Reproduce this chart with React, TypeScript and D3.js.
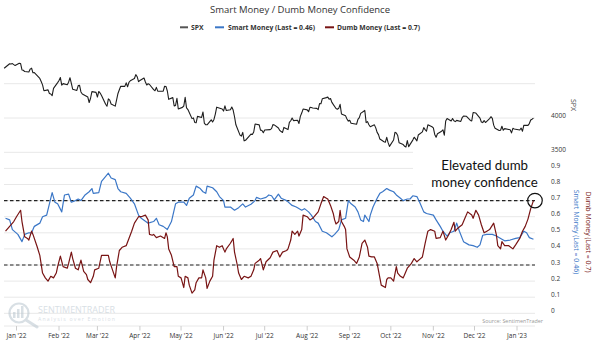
import React from "react";
import * as d3 from "d3";

const TITLE = "Smart Money / Dumb Money Confidence";

const SPX: [string, number][] = [
  ["2021-12-23",4725],["2021-12-27",4791],["2021-12-28",4786],["2021-12-29",4793],["2021-12-30",4778],["2021-12-31",4766],
  ["2022-01-03",4797],["2022-01-04",4794],["2022-01-05",4701],["2022-01-06",4696],["2022-01-07",4677],["2022-01-10",4670],
  ["2022-01-11",4713],["2022-01-12",4726],["2022-01-13",4659],["2022-01-14",4663],["2022-01-18",4577],["2022-01-19",4533],
  ["2022-01-20",4483],["2022-01-21",4398],["2022-01-24",4410],["2022-01-25",4357],["2022-01-26",4350],["2022-01-27",4327],
  ["2022-01-28",4432],["2022-01-31",4516],["2022-02-01",4546],["2022-02-02",4589],["2022-02-03",4478],["2022-02-04",4501],
  ["2022-02-07",4484],["2022-02-08",4522],["2022-02-09",4587],["2022-02-10",4504],["2022-02-11",4419],["2022-02-14",4402],
  ["2022-02-15",4472],["2022-02-16",4475],["2022-02-17",4380],["2022-02-18",4349],["2022-02-22",4305],["2022-02-23",4226],
  ["2022-02-24",4288],["2022-02-25",4385],["2022-02-28",4374],["2022-03-01",4306],["2022-03-02",4387],["2022-03-03",4364],
  ["2022-03-04",4329],["2022-03-07",4201],["2022-03-08",4171],["2022-03-09",4278],["2022-03-10",4260],["2022-03-11",4204],
  ["2022-03-14",4173],["2022-03-15",4263],["2022-03-16",4358],["2022-03-17",4412],["2022-03-18",4463],["2022-03-21",4461],
  ["2022-03-22",4512],["2022-03-23",4456],["2022-03-24",4520],["2022-03-25",4543],["2022-03-28",4575],["2022-03-29",4632],
  ["2022-03-30",4602],["2022-03-31",4530],["2022-04-01",4546],["2022-04-04",4583],["2022-04-05",4525],["2022-04-06",4481],
  ["2022-04-07",4500],["2022-04-08",4488],["2022-04-11",4413],["2022-04-12",4397],["2022-04-13",4447],["2022-04-14",4392],
  ["2022-04-18",4391],["2022-04-19",4463],["2022-04-20",4460],["2022-04-21",4394],["2022-04-22",4272],["2022-04-25",4297],
  ["2022-04-26",4175],["2022-04-27",4184],["2022-04-28",4288],["2022-04-29",4132],["2022-05-02",4155],["2022-05-03",4175],
  ["2022-05-04",4301],["2022-05-05",4147],["2022-05-06",4123],["2022-05-09",3991],["2022-05-10",4001],["2022-05-11",3935],
  ["2022-05-12",3930],["2022-05-13",4024],["2022-05-16",4008],["2022-05-17",4088],["2022-05-18",3924],["2022-05-19",3901],
  ["2022-05-20",3901],["2022-05-23",3974],["2022-05-24",3941],["2022-05-25",3979],["2022-05-26",4058],["2022-05-27",4158],
  ["2022-05-31",4132],["2022-06-01",4101],["2022-06-02",4177],["2022-06-03",4109],["2022-06-06",4121],["2022-06-07",4161],
  ["2022-06-08",4116],["2022-06-09",4018],["2022-06-10",3901],["2022-06-13",3750],["2022-06-14",3735],["2022-06-15",3790],
  ["2022-06-16",3667],["2022-06-17",3675],["2022-06-21",3765],["2022-06-22",3760],["2022-06-23",3796],["2022-06-24",3912],
  ["2022-06-27",3900],["2022-06-28",3821],["2022-06-29",3819],["2022-06-30",3785],["2022-07-01",3825],["2022-07-05",3831],
  ["2022-07-06",3845],["2022-07-07",3903],["2022-07-08",3899],["2022-07-11",3855],["2022-07-12",3819],["2022-07-13",3802],
  ["2022-07-14",3790],["2022-07-15",3863],["2022-07-18",3831],["2022-07-19",3937],["2022-07-20",3960],["2022-07-21",3999],
  ["2022-07-22",3962],["2022-07-25",3967],["2022-07-26",3921],["2022-07-27",4024],["2022-07-28",4072],["2022-07-29",4130],
  ["2022-08-01",4119],["2022-08-02",4091],["2022-08-03",4155],["2022-08-04",4152],["2022-08-05",4145],["2022-08-08",4140],
  ["2022-08-09",4122],["2022-08-10",4210],["2022-08-11",4207],["2022-08-12",4280],["2022-08-15",4297],["2022-08-16",4305],
  ["2022-08-17",4275],["2022-08-18",4284],["2022-08-19",4228],["2022-08-22",4138],["2022-08-23",4128],["2022-08-24",4141],
  ["2022-08-25",4199],["2022-08-26",4058],["2022-08-29",4031],["2022-08-30",3986],["2022-08-31",3955],["2022-09-01",3967],
  ["2022-09-02",3924],["2022-09-06",3909],["2022-09-07",3980],["2022-09-08",4006],["2022-09-09",4067],["2022-09-12",4110],
  ["2022-09-13",3932],["2022-09-14",3947],["2022-09-15",3901],["2022-09-16",3873],["2022-09-19",3900],["2022-09-20",3856],
  ["2022-09-21",3790],["2022-09-22",3758],["2022-09-23",3693],["2022-09-26",3655],["2022-09-27",3647],["2022-09-28",3719],
  ["2022-09-29",3641],["2022-09-30",3586],["2022-10-03",3679],["2022-10-04",3791],["2022-10-05",3783],["2022-10-06",3745],
  ["2022-10-07",3640],["2022-10-10",3613],["2022-10-11",3589],["2022-10-12",3577],["2022-10-13",3670],["2022-10-14",3583],
  ["2022-10-17",3678],["2022-10-18",3720],["2022-10-19",3695],["2022-10-20",3666],["2022-10-21",3752],["2022-10-24",3798],
  ["2022-10-25",3859],["2022-10-26",3831],["2022-10-27",3807],["2022-10-28",3901],["2022-10-31",3872],["2022-11-01",3856],
  ["2022-11-02",3760],["2022-11-03",3720],["2022-11-04",3771],["2022-11-07",3807],["2022-11-08",3828],["2022-11-09",3749],
  ["2022-11-10",3956],["2022-11-11",3993],["2022-11-14",3957],["2022-11-15",3992],["2022-11-16",3959],["2022-11-17",3947],
  ["2022-11-18",3965],["2022-11-21",3950],["2022-11-22",4004],["2022-11-23",4027],["2022-11-25",4026],["2022-11-28",3964],
  ["2022-11-29",3958],["2022-11-30",4080],["2022-12-01",4076],["2022-12-02",4072],["2022-12-05",3999],["2022-12-06",3941],
  ["2022-12-07",3933],["2022-12-08",3963],["2022-12-09",3934],["2022-12-12",3991],["2022-12-13",4019],["2022-12-14",3996],
  ["2022-12-15",3896],["2022-12-16",3852],["2022-12-19",3818],["2022-12-20",3821],["2022-12-21",3879],["2022-12-22",3822],
  ["2022-12-23",3845],["2022-12-27",3829],["2022-12-28",3783],["2022-12-29",3849],["2022-12-30",3840],["2023-01-03",3825],
  ["2023-01-04",3853],["2023-01-05",3808],["2023-01-06",3895],["2023-01-09",3893],["2023-01-10",3919],["2023-01-11",3970],
  ["2023-01-12",3983],["2023-01-13",3999],
];

const SMART: [string, number][] = [
  ["2021-12-24",0.59],["2021-12-27",0.58],["2021-12-29",0.52],["2022-01-02",0.49],["2022-01-05",0.445],["2022-01-07",0.49],
  ["2022-01-10",0.5],["2022-01-12",0.5],["2022-01-14",0.54],["2022-01-18",0.56],["2022-01-20",0.6],["2022-01-23",0.61],
  ["2022-01-25",0.68],["2022-01-27",0.75],["2022-01-29",0.69],["2022-01-31",0.68],["2022-02-03",0.63],["2022-02-05",0.735],
  ["2022-02-08",0.74],["2022-02-10",0.69],["2022-02-13",0.7],["2022-02-15",0.71],["2022-02-17",0.7],["2022-02-20",0.735],
  ["2022-02-23",0.755],["2022-02-25",0.775],["2022-02-26",0.745],["2022-03-02",0.75],["2022-03-04",0.82],["2022-03-06",0.84],
  ["2022-03-09",0.87],["2022-03-11",0.84],["2022-03-14",0.83],["2022-03-16",0.775],["2022-03-18",0.755],["2022-03-22",0.745],
  ["2022-03-25",0.715],["2022-03-28",0.68],["2022-03-31",0.61],["2022-04-02",0.59],["2022-04-07",0.56],["2022-04-11",0.57],
  ["2022-04-13",0.59],["2022-04-15",0.55],["2022-04-18",0.54],["2022-04-21",0.52],["2022-04-24",0.57],["2022-04-27",0.68],
  ["2022-04-29",0.69],["2022-05-03",0.69],["2022-05-05",0.67],["2022-05-07",0.715],["2022-05-10",0.735],["2022-05-12",0.79],
  ["2022-05-15",0.775],["2022-05-17",0.755],["2022-05-19",0.745],["2022-05-20",0.79],["2022-05-24",0.78],["2022-05-27",0.755],
  ["2022-05-29",0.725],["2022-06-01",0.7],["2022-06-02",0.66],["2022-06-06",0.66],["2022-06-09",0.64],["2022-06-12",0.656],
  ["2022-06-15",0.68],["2022-06-17",0.66],["2022-06-21",0.677],["2022-06-24",0.7],["2022-06-25",0.72],["2022-06-28",0.71],
  ["2022-07-02",0.72],["2022-07-04",0.735],["2022-07-06",0.73],["2022-07-08",0.705],["2022-07-11",0.74],["2022-07-13",0.715],
  ["2022-07-17",0.7],["2022-07-21",0.67],["2022-07-24",0.66],["2022-07-28",0.64],["2022-07-30",0.65],["2022-08-02",0.63],
  ["2022-08-04",0.61],["2022-08-07",0.57],["2022-08-09",0.56],["2022-08-12",0.51],["2022-08-15",0.5],["2022-08-19",0.475],
  ["2022-08-21",0.49],["2022-08-24",0.52],["2022-08-26",0.58],["2022-08-29",0.59],["2022-08-31",0.7],["2022-09-02",0.68],
  ["2022-09-05",0.66],["2022-09-07",0.63],["2022-09-09",0.58],["2022-09-11",0.57],["2022-09-12",0.61],["2022-09-15",0.57],
  ["2022-09-16",0.61],["2022-09-18",0.66],["2022-09-21",0.715],["2022-09-23",0.745],["2022-09-25",0.755],["2022-09-28",0.775],
  ["2022-09-30",0.765],["2022-10-03",0.755],["2022-10-05",0.735],["2022-10-08",0.715],["2022-10-10",0.7],["2022-10-13",0.71],
  ["2022-10-15",0.71],["2022-10-17",0.73],["2022-10-20",0.725],["2022-10-22",0.69],["2022-10-25",0.63],["2022-10-27",0.62],
  ["2022-11-01",0.61],["2022-11-03",0.58],["2022-11-06",0.54],["2022-11-08",0.51],["2022-11-11",0.48],["2022-11-13",0.5],
  ["2022-11-16",0.51],["2022-11-18",0.56],["2022-11-20",0.51],["2022-11-23",0.445],["2022-11-27",0.425],["2022-11-30",0.42],
  ["2022-12-03",0.41],["2022-12-05",0.425],["2022-12-07",0.485],["2022-12-10",0.49],["2022-12-14",0.49],["2022-12-17",0.48],
  ["2022-12-21",0.46],["2022-12-23",0.45],["2022-12-27",0.455],["2022-12-31",0.465],["2023-01-03",0.47],["2023-01-06",0.51],
  ["2023-01-08",0.5],["2023-01-10",0.47],["2023-01-13",0.46],
];

const DUMB: [string, number][] = [
  ["2021-12-24",0.51],["2021-12-27",0.54],["2021-12-30",0.57],["2022-01-01",0.6],["2022-01-04",0.64],["2022-01-05",0.57],
  ["2022-01-07",0.475],["2022-01-09",0.465],["2022-01-10",0.455],["2022-01-12",0.51],["2022-01-13",0.49],["2022-01-16",0.415],
  ["2022-01-18",0.36],["2022-01-20",0.25],["2022-01-22",0.22],["2022-01-24",0.2],["2022-01-26",0.23],["2022-01-28",0.22],
  ["2022-01-30",0.25],["2022-01-31",0.29],["2022-02-02",0.355],["2022-02-04",0.29],["2022-02-07",0.28],["2022-02-08",0.31],
  ["2022-02-10",0.38],["2022-02-11",0.34],["2022-02-13",0.28],["2022-02-15",0.27],["2022-02-17",0.33],["2022-02-19",0.26],
  ["2022-02-21",0.24],["2022-02-22",0.21],["2022-02-24",0.19],["2022-02-26",0.23],["2022-02-27",0.27],["2022-03-02",0.28],
  ["2022-03-04",0.36],["2022-03-06",0.36],["2022-03-09",0.36],["2022-03-10",0.32],["2022-03-12",0.27],["2022-03-14",0.22],
  ["2022-03-15",0.29],["2022-03-17",0.39],["2022-03-19",0.41],["2022-03-22",0.42],["2022-03-24",0.465],["2022-03-26",0.51],
  ["2022-03-28",0.56],["2022-03-31",0.6],["2022-04-02",0.6],["2022-04-05",0.61],["2022-04-07",0.58],["2022-04-08",0.49],
  ["2022-04-10",0.485],["2022-04-11",0.49],["2022-04-13",0.47],["2022-04-16",0.48],["2022-04-19",0.465],["2022-04-20",0.5],
  ["2022-04-21",0.475],["2022-04-22",0.4],["2022-04-24",0.36],["2022-04-26",0.29],["2022-04-28",0.29],["2022-04-29",0.23],
  ["2022-05-01",0.22],["2022-05-03",0.16],["2022-05-04",0.23],["2022-05-06",0.22],["2022-05-07",0.175],["2022-05-09",0.125],
  ["2022-05-11",0.145],["2022-05-12",0.19],["2022-05-14",0.22],["2022-05-16",0.22],["2022-05-17",0.27],["2022-05-19",0.22],
  ["2022-05-20",0.155],["2022-05-22",0.2],["2022-05-24",0.23],["2022-05-25",0.33],["2022-05-27",0.42],["2022-05-29",0.41],
  ["2022-05-31",0.42],["2022-06-02",0.38],["2022-06-03",0.4],["2022-06-06",0.435],["2022-06-08",0.465],["2022-06-09",0.38],
  ["2022-06-11",0.3],["2022-06-12",0.25],["2022-06-14",0.21],["2022-06-16",0.23],["2022-06-19",0.22],["2022-06-21",0.23],
  ["2022-06-23",0.27],["2022-06-24",0.31],["2022-06-27",0.33],["2022-06-28",0.34],["2022-06-30",0.27],["2022-07-02",0.32],
  ["2022-07-05",0.345],["2022-07-07",0.38],["2022-07-10",0.39],["2022-07-12",0.35],["2022-07-14",0.38],["2022-07-17",0.39],
  ["2022-07-18",0.4],["2022-07-20",0.455],["2022-07-21",0.51],["2022-07-23",0.49],["2022-07-25",0.51],["2022-07-26",0.48],
  ["2022-07-28",0.52],["2022-07-29",0.61],["2022-08-01",0.6],["2022-08-03",0.58],["2022-08-05",0.59],["2022-08-07",0.61],
  ["2022-08-09",0.63],["2022-08-11",0.68],["2022-08-13",0.725],["2022-08-15",0.715],["2022-08-16",0.71],["2022-08-18",0.67],
  ["2022-08-20",0.62],["2022-08-21",0.58],["2022-08-22",0.555],["2022-08-24",0.57],["2022-08-25",0.64],["2022-08-26",0.57],
  ["2022-08-28",0.54],["2022-08-29",0.52],["2022-08-30",0.4],["2022-09-01",0.35],["2022-09-04",0.33],["2022-09-06",0.31],
  ["2022-09-08",0.35],["2022-09-10",0.435],["2022-09-12",0.455],["2022-09-14",0.41],["2022-09-15",0.355],["2022-09-17",0.35],
  ["2022-09-19",0.35],["2022-09-21",0.31],["2022-09-23",0.22],["2022-09-24",0.175],["2022-09-27",0.16],["2022-09-28",0.21],
  ["2022-09-29",0.22],["2022-10-01",0.22],["2022-10-03",0.2],["2022-10-05",0.29],["2022-10-06",0.25],["2022-10-08",0.23],
  ["2022-10-10",0.22],["2022-10-11",0.24],["2022-10-13",0.28],["2022-10-14",0.29],["2022-10-16",0.31],["2022-10-18",0.34],
  ["2022-10-20",0.32],["2022-10-22",0.335],["2022-10-24",0.35],["2022-10-26",0.435],["2022-10-28",0.51],["2022-10-30",0.52],
  ["2022-11-02",0.51],["2022-11-03",0.465],["2022-11-06",0.47],["2022-11-08",0.51],["2022-11-10",0.455],["2022-11-12",0.485],
  ["2022-11-14",0.52],["2022-11-16",0.565],["2022-11-17",0.51],["2022-11-19",0.53],["2022-11-22",0.55],["2022-11-24",0.59],
  ["2022-11-26",0.63],["2022-11-29",0.61],["2022-11-30",0.59],["2022-12-02",0.64],["2022-12-04",0.61],["2022-12-06",0.55],
  ["2022-12-08",0.5],["2022-12-10",0.51],["2022-12-12",0.52],["2022-12-15",0.56],["2022-12-17",0.485],["2022-12-18",0.42],
  ["2022-12-20",0.4],["2022-12-21",0.445],["2022-12-23",0.42],["2022-12-26",0.42],["2022-12-29",0.4],["2022-12-31",0.425],
  ["2023-01-03",0.465],["2023-01-05",0.51],["2023-01-07",0.54],["2023-01-09",0.585],["2023-01-11",0.65],["2023-01-13",0.7],
];

const MONTH_TICKS = ["2022-01-01","2022-02-01","2022-03-01","2022-04-01","2022-05-01","2022-06-01","2022-07-01",
  "2022-08-01","2022-09-01","2022-10-01","2022-11-01","2022-12-01","2023-01-01"];
const SPX_GRID = [4500, 4000, 3500];
const SPX_TICKS = [4000, 3500];
const MONEY_TICKS = [0, 0.1, 0.2, 0.3, 0.4, 0.5, 0.6, 0.7, 0.8, 0.9];
const MONEY_LABELS = ["0", "0.1", "0.2", "0.3", "0.4", "0.5", "0.6", "0.7", "0.8", "0.9"];
const THRESHOLDS = [0.7, 0.3];
const LEGEND = ["SPX", "Smart Money (Last = 0.46)", "Dumb Money (Last = 0.7)"];
const ANNOTATION = ["Elevated dumb", "money confidence"];

const C_SPX = "#1e1e1e";
const C_SMART = "#3b77c7";
const C_DUMB = "#781414";
const FONT = "'Open Sans', 'DejaVu Sans', sans-serif";

const parse = d3.timeParse("%Y-%m-%d");
const fmtMonth = d3.timeFormat("%b '%y");

export default function App() {
  const x = d3.scaleTime().domain([parse("2022-01-01")!, parse("2023-01-01")!]).range([16.5, 517]);
  const ySpx = d3.scaleLinear().domain([3500, 4000]).range([152.3, 118]);
  const yM = d3.scaleLinear().domain([0, 0.9]).range([313.3, 168.4]);
  const X0 = 4, X1 = 535;

  const spxLine = d3.line<[string, number]>().x(d => x(parse(d[0])!)).y(d => ySpx(d[1]));
  const mLine = d3.line<[string, number]>().x(d => x(parse(d[0])!)).y(d => yM(d[1]));
  const last = DUMB[DUMB.length - 1];
  const lastX = x(parse(last[0])!);
  const lastY = yM(last[1]);

  return (
    <svg width={600} height={345} style={{ position: "absolute", left: 0, top: 0, background: "#fff" }} fontFamily={FONT}>
      <rect x={0} y={0} width={600} height={345} fill="#fff" />
      <text x={300} y={13.3} textAnchor="middle" fontSize={9.5} fill="#333">{TITLE}</text>
      {/* legend */}
      <g fontSize={6.8} fontWeight="bold" fill="#333">
        <line x1={180} x2={188} y1={27.3} y2={27.3} stroke="#555" strokeWidth={2} />
        <text x={191} y={29.7}>{LEGEND[0]}</text>
        <line x1={215} x2={224} y1={27.3} y2={27.3} stroke={C_SMART} strokeWidth={2} />
        <text x={228} y={29.7}>{LEGEND[1]}</text>
        <line x1={325} x2={334} y1={27.3} y2={27.3} stroke={C_DUMB} strokeWidth={2} />
        <text x={337} y={29.7}>{LEGEND[2]}</text>
      </g>
      {/* grid */}
      <g stroke="#e8e8e8" strokeWidth={1}>
        {SPX_GRID.map(v => <line key={"s" + v} x1={X0} x2={X1} y1={ySpx(v)} y2={ySpx(v)} />)}
        {MONEY_TICKS.map(v => <line key={"m" + v} x1={X0} x2={X1} y1={yM(v)} y2={yM(v)} />)}
        <line x1={X0} x2={X1} y1={326} y2={326} />
      </g>
      {/* watermark */}
      <g opacity={0.55}>
        <circle cx={19} cy={313} r={9.5} fill="none" stroke="#b9c6cf" strokeWidth={2.2} />
        <line x1={26} y1={320} x2={37} y2={327} stroke="#b9c6cf" strokeWidth={3} strokeLinecap="round" />
        <rect x={13} y={312} width={2.5} height={6} fill="#b9c6cf" />
        <rect x={17} y={309} width={2.5} height={9} fill="#b9c6cf" />
        <rect x={21} y={306} width={2.5} height={12} fill="#b9c6cf" />
        <text x={38} y={313} fontSize={9} fill="#b9c6cf" textLength={77} lengthAdjust="spacingAndGlyphs">SENTIMENTRADER</text>
        <text x={38} y={321.3} fontSize={5.2} fill="#b9c6cf" textLength={77} lengthAdjust="spacing">Analysis over Emotion</text>
      </g>
      {/* annotation background */}
      <rect x={413} y={144} width={130} height={49} fill="#fff" />
      {/* thresholds */}
      {THRESHOLDS.map(v => (
        <line key={"t" + v} x1={X0} x2={X1} y1={yM(v)} y2={yM(v)} stroke="#222" strokeWidth={1.1} strokeDasharray="3.5,2.5" />
      ))}
      {/* series */}
      <path d={spxLine(SPX) || ""} fill="none" stroke={C_SPX} strokeWidth={1.1} strokeLinejoin="round" />
      <path d={mLine(SMART) || ""} fill="none" stroke={C_SMART} strokeWidth={1.2} strokeLinejoin="round" />
      <path d={mLine(DUMB) || ""} fill="none" stroke={C_DUMB} strokeWidth={1.2} strokeLinejoin="round" />
      {/* annotation */}
      <g fontFamily="Lato, 'Open Sans', sans-serif" fontSize={13.3} fill="#111" textAnchor="middle">
        <text x={484.7} y={170}>{ANNOTATION[0]}</text>
        <text x={484.5} y={186.5}>{ANNOTATION[1]}</text>
      </g>
      <circle cx={lastX + 1.5} cy={lastY} r={7.3} fill="none" stroke="#111" strokeWidth={1.2} />
      {/* x axis */}
      <g fontSize={6.5} fill="#333" textAnchor="middle">
        {MONTH_TICKS.map(t => {
          const xx = x(parse(t)!);
          return (
            <g key={t}>
              <line x1={xx} x2={xx} y1={326} y2={330.5} stroke="#ccc" strokeWidth={1} />
              <text x={xx} y={338}>{fmtMonth(parse(t)!)}</text>
            </g>
          );
        })}
      </g>
      {/* right axes */}
      <g fontSize={6.5} fill="#333">
        {SPX_TICKS.map(v => <text key={v} x={551} y={ySpx(v) - 3} dominantBaseline="central">{v}</text>)}
        {MONEY_TICKS.map((v, i) => <text key={v} x={551} y={yM(v) - 3} dominantBaseline="central">{MONEY_LABELS[i]}</text>)}
      </g>
      <g fontSize={7} textAnchor="middle">
        <text transform="translate(571,105) rotate(90)" fill="#444">SPX</text>
        <text transform="translate(574,232) rotate(90)" fill={C_SMART}>{LEGEND[1]}</text>
        <text transform="translate(586,232) rotate(90)" fill={C_DUMB}>{LEGEND[2]}</text>
      </g>
      <text x={543} y={322.5} fontSize={5.4} fill="#999" textAnchor="end">Source: SentimenTrader</text>
    </svg>
  );
}
